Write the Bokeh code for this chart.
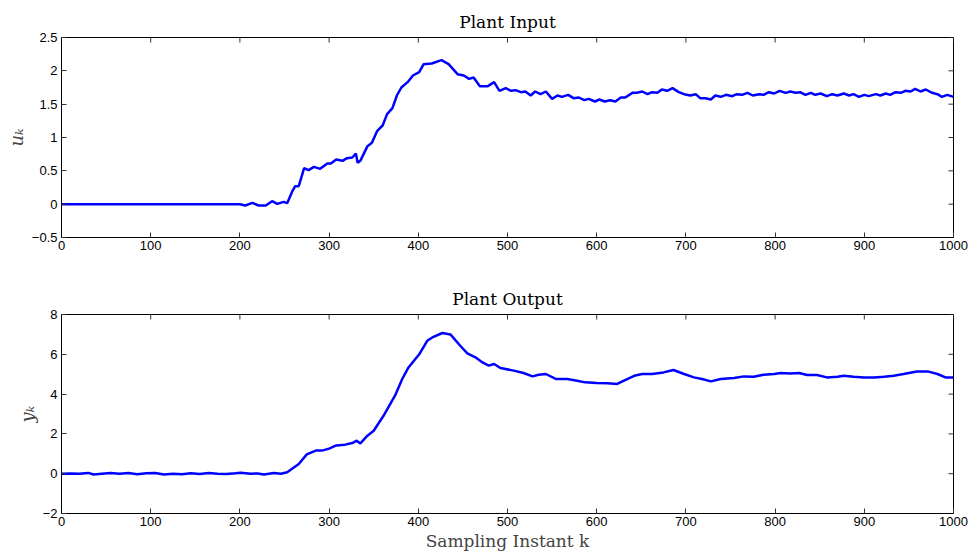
import math
from bokeh.plotting import figure
from bokeh.layouts import column
from bokeh.models import FixedTicker, Range1d
from bokeh.embed import file_html
from bokeh.resources import INLINE

# ---------------- data ----------------
u_k = [0, 200, 206, 214, 221, 229, 236, 242, 249, 253, 259, 262, 266, 272, 277, 283, 290, 298, 302,
       308, 315, 320, 326, 330, 332, 335, 343, 348, 354, 360, 365, 371, 376, 381, 388, 394, 401, 406,
       415, 426, 434, 444, 451, 457, 462, 469, 478, 485, 491, 498, 504, 509, 515, 520, 526, 531, 537,
       543, 550, 556, 561, 568, 574, 580, 586, 591, 598, 603, 609, 615, 621, 627, 632, 640, 645, 651,
       657, 662, 668, 673, 679, 685, 692, 698, 705, 711, 716, 722, 728, 733, 739, 745, 752, 757, 763,
       769, 775, 782, 787, 793, 799, 805, 812, 817, 823, 828, 834, 840, 845, 851, 858, 864, 870, 877,
       883, 888, 894, 900, 905, 913, 918, 924, 929, 935, 941, 946, 952, 957, 963, 969, 976, 982, 987,
       993, 1000]
u_val = [0, 0, -0.02, 0.02, -0.02, -0.02, 0.045, 0.005, 0.035, 0.015, 0.2, 0.27, 0.27, 0.54, 0.51,
         0.56, 0.53, 0.61, 0.61, 0.67, 0.65, 0.69, 0.70, 0.76, 0.62, 0.65, 0.87, 0.92, 1.10, 1.18,
         1.35, 1.44, 1.63, 1.75, 1.83, 1.93, 1.98, 2.10, 2.11, 2.16, 2.10, 1.95, 1.93, 1.88, 1.90,
         1.77, 1.77, 1.83, 1.70, 1.74, 1.70, 1.71, 1.68, 1.69, 1.63, 1.69, 1.65, 1.69, 1.58, 1.63,
         1.61, 1.64, 1.59, 1.60, 1.56, 1.58, 1.54, 1.57, 1.54, 1.56, 1.54, 1.60, 1.60, 1.67, 1.67,
         1.69, 1.65, 1.68, 1.67, 1.72, 1.70, 1.74, 1.68, 1.65, 1.63, 1.65, 1.59, 1.59, 1.57, 1.63,
         1.61, 1.64, 1.62, 1.65, 1.64, 1.67, 1.63, 1.65, 1.64, 1.68, 1.66, 1.70, 1.67, 1.69, 1.67,
         1.68, 1.64, 1.67, 1.64, 1.66, 1.62, 1.65, 1.63, 1.66, 1.63, 1.65, 1.61, 1.64, 1.62, 1.65,
         1.63, 1.66, 1.64, 1.68, 1.67, 1.70, 1.69, 1.73, 1.69, 1.72, 1.67, 1.65, 1.61, 1.64, 1.61]

y_k = [0, 10, 20, 30, 36, 45, 55, 65, 75, 85, 95, 105, 115, 125, 135, 145, 155, 165, 175, 185, 195,
       201, 212, 220, 227, 238, 246, 253, 266, 275, 285, 292, 300, 308, 318, 326, 331, 335, 343, 350,
       361, 374, 382, 389, 401, 410, 417, 427, 436, 447, 455, 464, 472, 479, 485, 492, 507, 518, 528,
       535, 543, 554, 567, 578, 587, 600, 612, 623, 630, 642, 651, 662, 675, 686, 698, 709, 718, 728,
       739, 754, 765, 776, 787, 799, 806, 817, 827, 836, 847, 858, 870, 877, 888, 900, 911, 922, 933,
       944, 959, 971, 982, 991, 1000]
y_val = [0.0, 0.01, 0.0, 0.04, -0.04, 0.0, 0.04, 0.0, 0.03, -0.03, 0.02, 0.04, -0.04, 0.0, -0.03,
         0.02, -0.01, 0.03, 0.0, -0.02, 0.02, 0.05, 0.0, 0.01, -0.04, 0.03, 0.0, 0.07, 0.49, 0.97,
         1.16, 1.16, 1.26, 1.42, 1.46, 1.54, 1.66, 1.52, 1.91, 2.16, 2.91, 3.93, 4.76, 5.34, 6.0,
         6.68, 6.88, 7.07, 7.0, 6.43, 6.05, 5.85, 5.59, 5.43, 5.51, 5.31, 5.18, 5.06, 4.89, 4.97,
         5.01, 4.76, 4.76, 4.67, 4.59, 4.56, 4.54, 4.51, 4.67, 4.92, 5.01, 5.01, 5.09, 5.21, 5.01,
         4.84, 4.76, 4.64, 4.76, 4.81, 4.89, 4.87, 4.97, 5.01, 5.06, 5.04, 5.06, 4.96, 4.96, 4.84,
         4.87, 4.92, 4.87, 4.84, 4.84, 4.87, 4.92, 5.01, 5.14, 5.14, 5.01, 4.84, 4.84]

x_ticks = [0, 100, 200, 300, 400, 500, 600, 700, 800, 900, 1000]
u_ticks = [-0.5, 0, 0.5, 1, 1.5, 2, 2.5]
u_tick_labels = ["\u22120.5", "0", "0.5", "1", "1.5", "2", "2.5"]
y_ticks = [-2, 0, 2, 4, 6, 8]
y_tick_labels = ["\u22122", "0", "2", "4", "6", "8"]

title_top = "Plant Input"
title_bottom = "Plant Output"
ylabel_top = "u\u2096"
ylabel_bottom = "y\u2096"
xlabel = "Sampling Instant k"

SERIF = "DejaVu Serif"
SANS = "Liberation Sans"
TICK_COLOR = "#333333"


def style_axis(ax, ticks, overrides):
    ax.ticker = FixedTicker(ticks=ticks)
    ax.major_tick_in = 5
    ax.major_tick_out = 0
    ax.minor_tick_line_color = None
    ax.major_tick_line_color = TICK_COLOR
    ax.axis_line_color = "black"
    ax.major_label_text_font = SANS
    ax.major_label_text_font_size = "13px"
    ax.major_label_text_color = "black"
    if overrides:
        ax.major_label_overrides = overrides


def make_fig(h, top, bottom, title, yr, yt, ytl, ylab, kx, vy, with_xlabel):
    p = figure(width=970, height=h, output_backend="svg", toolbar_location=None,
               x_range=Range1d(0, 1000), y_range=Range1d(*yr),
               min_border_left=61, min_border_right=17, min_border_top=top,
               min_border_bottom=bottom, title=title)
    p.title.text_font = SERIF
    p.title.text_font_size = "17px"
    p.title.text_font_style = "normal"
    p.title.align = "center"
    p.title.standoff = 12
    p.title.text_color = "black"
    p.grid.visible = False
    p.outline_line_color = "black"
    p.outline_line_width = 1
    p.background_fill_color = "white"
    p.border_fill_color = "white"

    style_axis(p.xaxis[0], x_ticks, None)
    p.xaxis[0].major_label_standoff = 3
    style_axis(p.yaxis[0], yt, dict(zip(yt, ytl)))
    p.yaxis[0].major_label_standoff = 4
    p.yaxis[0].axis_label = ylab
    p.yaxis[0].axis_label_text_font = SERIF
    p.yaxis[0].axis_label_text_font_style = "italic"
    p.yaxis[0].axis_label_text_font_size = "18px"
    p.yaxis[0].axis_label_standoff = 2
    if with_xlabel:
        p.xaxis[0].axis_label = xlabel
        p.xaxis[0].axis_label_text_font = SERIF
        p.xaxis[0].axis_label_text_font_style = "normal"
        p.xaxis[0].axis_label_text_font_size = "17px"
        p.xaxis[0].axis_label_standoff = 2

    # inward ticks on the top and right edges (MATLAB box style)
    p.ray(x=x_ticks, y=[yr[1]] * len(x_ticks), length=5, length_units="screen",
          angle=-math.pi / 2, line_color=TICK_COLOR, line_width=1)
    p.ray(x=[1000] * len(yt), y=yt, length=5, length_units="screen",
          angle=math.pi, line_color=TICK_COLOR, line_width=1)

    p.line(kx, vy, line_color="#0000FF", line_width=2.5)
    return p


p1 = make_fig(264, 37, 27, title_top, (-0.5, 2.5), u_ticks, u_tick_labels, ylabel_top,
              u_k, u_val, False)
p2 = make_fig(290, 50, 41, title_bottom, (-2, 8), y_ticks, y_tick_labels, ylabel_bottom,
              y_k, y_val, True)

layout = column(p1, p2, spacing=0)
open("out.html", "w").write(file_html(layout, INLINE))
